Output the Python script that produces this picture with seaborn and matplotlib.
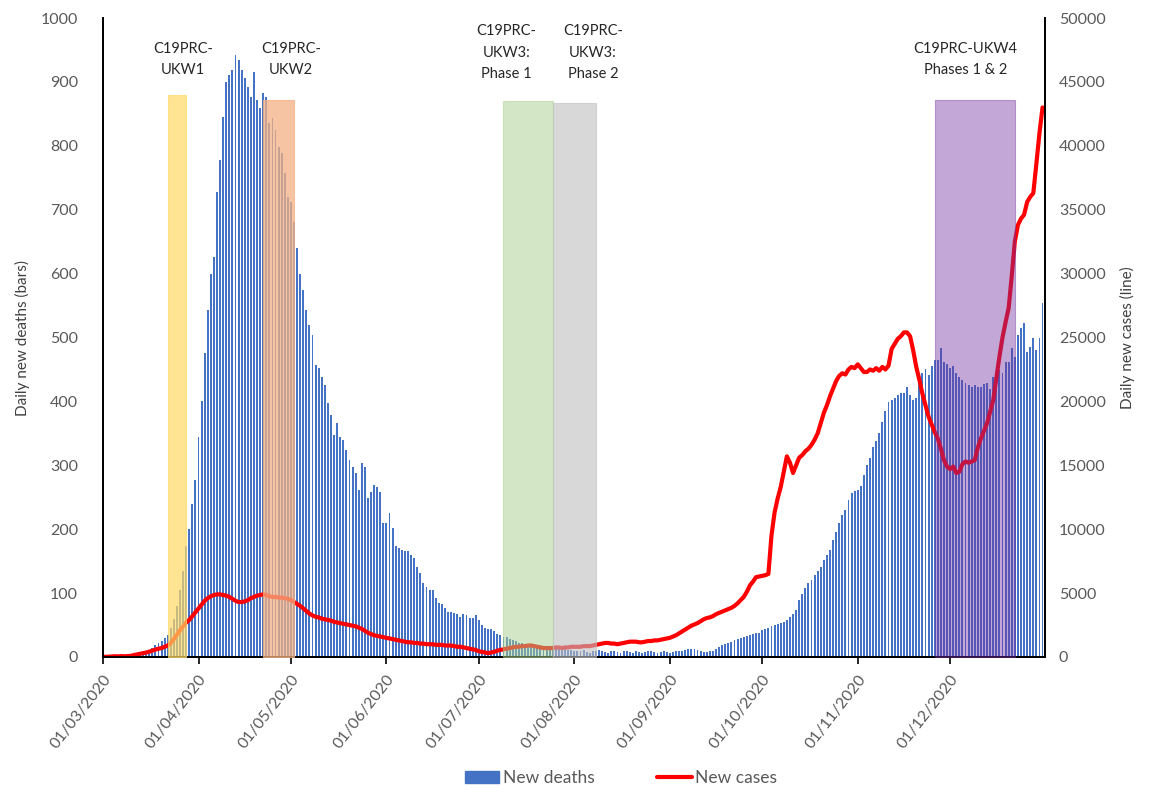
import numpy as np
import pandas as pd
import seaborn as sns
import matplotlib.pyplot as plt
from matplotlib.patches import Patch
from matplotlib.lines import Line2D

# daily values, 01/03/2020 .. 31/12/2020
deaths = [
    # March
    0, 0, 0, 0, 1, 0, 1, 1, 2, 1, 2, 3, 4, 6, 8, 10, 14, 18, 22, 25,
    30, 35, 45, 60, 80, 105, 135, 173, 200, 240, 277,
    # April
    345, 400, 475, 543, 600, 626, 728, 778, 845, 900, 911, 918, 942, 934, 918,
    906, 892, 876, 915, 872, 859, 883, 876, 836, 844, 825, 798, 789, 757, 720,
    # May
    712, 680, 640, 600, 575, 543, 520, 504, 457, 452, 438, 426, 397, 379, 347,
    366, 344, 340, 324, 308, 298, 288, 261, 303, 298, 249, 258, 269, 266, 258, 210,
    # June
    210, 225, 202, 173, 170, 168, 166, 166, 159, 155, 141, 131, 116, 110, 105,
    105, 92, 84, 83, 77, 71, 71, 69, 67, 63, 67, 66, 61, 61, 66,
    # July
    58, 50, 45, 44, 44, 40, 36, 34, 31, 31, 28, 27, 25, 22, 22, 21, 20, 19, 19,
    19, 18, 17, 15, 13, 13, 12, 12, 12, 12, 11, 11,
    # August
    10, 9, 10, 11, 8, 7, 9, 10, 11, 9, 8, 7, 10, 9, 8, 7, 9, 10, 8, 7, 9, 8,
    7, 8, 9, 10, 8, 7, 8, 9, 8,
    # September
    7, 8, 9, 10, 10, 11, 12, 12, 13, 11, 9, 8, 8, 9, 10, 12, 16, 18, 20, 22,
    24, 27, 28, 30, 32, 33, 34, 36, 37, 37,
    # October
    42, 44, 46, 48, 50, 52, 53, 55, 58, 63, 68, 73, 89, 98, 108, 116, 120, 128,
    135, 141, 152, 160, 167, 183, 196, 210, 222, 230, 245, 257, 259,
    # November
    261, 268, 285, 300, 312, 329, 338, 350, 368, 385, 399, 402, 406, 410, 413,
    413, 423, 410, 402, 405, 440, 445, 450, 441, 455, 465, 465, 483, 462, 458,
    # December
    452, 455, 445, 438, 433, 429, 426, 423, 425, 423, 423, 427, 429, 420, 438,
    442, 449, 445, 462, 462, 483, 470, 504, 515, 523, 477, 485, 499, 480, 499, 554,
]

cases = [
    # March
    20, 15, 30, 45, 60, 50, 70, 55, 70, 90, 150, 200, 250, 300, 350, 420, 500,
    580, 650, 700, 800, 900, 1100, 1400, 1750, 2100, 2400, 2700, 2900, 3200, 3500,
    # April
    3800, 4100, 4400, 4600, 4750, 4850, 4900, 4900, 4850, 4800, 4700, 4550, 4400,
    4300, 4300, 4350, 4450, 4600, 4700, 4800, 4850, 4900, 4850, 4750, 4700, 4700,
    4650, 4650, 4600, 4550,
    # May
    4450, 4300, 4150, 4000, 3800, 3600, 3400, 3250, 3150, 3100, 3000, 2950, 2900,
    2850, 2750, 2700, 2650, 2600, 2550, 2500, 2450, 2400, 2300, 2200, 2050, 1900,
    1800, 1700, 1650, 1600, 1550,
    # June
    1500, 1450, 1400, 1350, 1300, 1250, 1200, 1150, 1150, 1100, 1100, 1050, 1050,
    1000, 1000, 1000, 950, 950, 950, 900, 900, 900, 850, 800, 800, 750, 700, 650,
    600, 550,
    # July
    450, 400, 350, 300, 350, 400, 500, 550, 600, 650, 700, 750, 800, 800, 850,
    850, 900, 900, 850, 800, 750, 700, 700, 700, 700, 750, 750, 700, 750, 750, 800,
    # August
    800, 800, 800, 850, 850, 850, 900, 950, 1000, 1050, 1100, 1100, 1050, 1050,
    1000, 1050, 1100, 1150, 1200, 1200, 1200, 1150, 1150, 1200, 1250, 1250, 1300,
    1300, 1350, 1400, 1450,
    # September
    1500, 1600, 1700, 1850, 2000, 2150, 2300, 2450, 2550, 2650, 2800, 2950, 3050,
    3100, 3200, 3350, 3450, 3550, 3650, 3750, 3850, 4000, 4200, 4450, 4700, 5100,
    5600, 5900, 6250, 6300,
    # October
    6350, 6400, 6500, 9500, 11300, 12400, 13300, 14500, 15700, 15200, 14400,
    15000, 15600, 15800, 16100, 16300, 16600, 17000, 17500, 18300, 19100, 19700,
    20400, 21000, 21600, 22000, 22200, 22100, 22500, 22700, 22600,
    # November
    22900, 22600, 22300, 22300, 22500, 22400, 22600, 22400, 22700, 22500, 22800,
    24100, 24500, 24900, 25100, 25400, 25400, 25100, 24000, 22700, 21700, 20600,
    19700, 18800, 18200, 17600, 17100, 16300, 15400, 14900,
    # December
    14700, 14900, 14400, 14500, 15100, 15300, 15200, 15300, 15400, 16400, 17100,
    17700, 18300, 19200, 20100, 21800, 23500, 25000, 26200, 27300, 29800, 32500,
    33800, 34300, 34600, 35600, 36000, 36300, 38600, 41000, 43000,
]

dates = pd.date_range("2020-03-01", "2020-12-31", freq="D")
month_ticks = pd.date_range("2020-03-01", "2020-12-01", freq="MS")

# survey waves
wave_labels = ["C19PRC-\nUKW1", "C19PRC-\nUKW2", "C19PRC-\nUKW3:\nPhase 1",
               "C19PRC-\nUKW3:\nPhase 2", "C19PRC-UKW4\nPhases 1 & 2"]
wave_start = ["2020-03-22", "2020-04-22", "2020-07-09", "2020-07-25", "2020-11-26"]
wave_end = ["2020-03-28", "2020-05-02", "2020-07-25", "2020-08-08", "2020-12-22"]
wave_top = [880, 872, 870, 867, 872]
wave_colors = ["#FFD966", "#F4B183", "#A9D18E", "#BFBFBF", "#7030A0"]
wave_alpha = [0.7, 0.75, 0.5, 0.6, 0.42]
wave_text_x = ["2020-03-27", "2020-05-01", "2020-07-10", "2020-08-07", "2020-12-06"]

df = pd.DataFrame({"day": np.arange(len(dates)), "deaths": deaths, "cases": cases})
day0 = dates[0]


def day_index(s):
    return (pd.Timestamp(s) - day0).days


sns.set_style("white")
plt.rcParams["font.family"] = ["Lato", "DejaVu Sans"]

fig = plt.figure(figsize=(11.5, 8), dpi=100)
ax = fig.add_axes([0.0896, 0.17875, 0.8191, 0.79875])

sns.barplot(data=df, x="day", y="deaths", native_scale=True, width=0.62,
            color="#4472C4", saturation=1, linewidth=0, ax=ax)
ax2 = ax.twinx()
sns.lineplot(data=df, x="day", y="cases", color="#FF0000", lw=3, ax=ax2)

ax.set_xlim(0, 305.8)
ax.set_ylim(0, 1000)
ax2.set_ylim(0, 50000)
ratio = 50000 / 1000

for lab, s, e, top, c, a, tx in zip(wave_labels, wave_start, wave_end, wave_top,
                                    wave_colors, wave_alpha, wave_text_x):
    ax2.fill_between([day_index(s), day_index(e)], 0, top * ratio, color=c,
                     alpha=a, lw=0.8, edgecolor=c, zorder=5)
    nlines = lab.count("\n") + 1
    ty = 0.990 if nlines == 3 else 0.962
    ax.text(day_index(tx), ty * 1000, lab, ha="center", va="top", fontsize=10.5,
            color="#262626", linespacing=1.65)

ax.set_yticks(np.arange(0, 1001, 100))
ax2.set_yticks(np.arange(0, 50001, 5000))
ax.set_xticks([day_index(d) for d in month_ticks])
ax.set_xticklabels([d.strftime("%d/%m/%Y") for d in month_ticks], rotation=52,
                   ha="right", rotation_mode="anchor")
ax.set_xlabel("")
ax.set_ylabel("Daily new deaths (bars)", fontsize=11, color="#404040", labelpad=8)
ax2.set_ylabel("Daily new cases (line)", fontsize=11, color="#404040",
               rotation=90, labelpad=10)

for a_ in (ax, ax2):
    a_.tick_params(axis="y", length=0, labelsize=11.5, labelcolor="#595959", pad=18)
    for sp in a_.spines.values():
        sp.set_color("black")
        sp.set_linewidth(1.3)
    a_.spines["top"].set_visible(False)
ax2.tick_params(axis="y", pad=10)
ax.tick_params(axis="x", length=5, width=1.2, direction="out", color="black",
               labelsize=11.5, labelcolor="#595959", pad=6, bottom=True)

handles = [Patch(color="#4472C4", label="New deaths"),
           Line2D([0], [0], color="#FF0000", lw=3, label="New cases")]
fig.legend(handles=handles, loc="lower center", bbox_to_anchor=(0.54, -0.002),
           ncol=2, frameon=False, fontsize=12.5, handlelength=2.0,
           columnspacing=3.6, handletextpad=0.2)
for t in fig.legends[0].get_texts():
    t.set_color("#595959")

fig.savefig("out.png", dpi=100)
